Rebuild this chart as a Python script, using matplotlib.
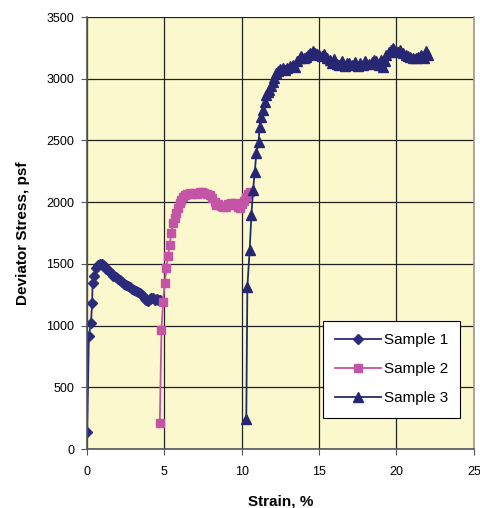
import matplotlib.pyplot as plt

plt.rcParams['font.family'] = ['Liberation Sans', 'DejaVu Sans']

# Sample 1 (diamonds)
s1_strain = [0.02, 0.13, 0.26, 0.34, 0.37, 0.47, 0.62, 0.75, 0.84, 0.95, 1.05, 1.15, 1.25,
             1.35, 1.48, 1.6, 1.72, 1.85, 1.98, 2.13, 2.25, 2.38, 2.5, 2.63, 2.77, 2.9,
             3.02, 3.15, 3.28, 3.42, 3.55, 3.66, 3.77, 3.85, 3.95, 4.05, 4.15, 4.28, 4.4,
             4.52, 4.62, 4.71]
s1_stress = [140, 918, 1018, 1180, 1343, 1402, 1464, 1490, 1499, 1496, 1488, 1475, 1462,
             1450, 1437, 1420, 1405, 1390, 1378, 1370, 1352, 1340, 1330, 1322, 1315, 1300,
             1290, 1280, 1272, 1262, 1245, 1230, 1215, 1207, 1200, 1212, 1222, 1221, 1210,
             1215, 1205, 1207]

# Sample 2 (squares)
s2_strain = [4.71, 4.82, 4.92, 5.03, 5.14, 5.24, 5.35, 5.46, 5.57, 5.68, 5.78, 5.88, 5.99,
             6.1, 6.21, 6.35, 6.5, 6.65, 6.8, 6.95, 7.1, 7.29, 7.45, 7.6, 7.75, 7.94, 8.1,
             8.25, 8.37, 8.5, 8.65, 8.8, 9.01, 9.15, 9.3, 9.45, 9.56, 9.66, 9.78, 9.88,
             10.0, 10.15, 10.3, 10.42, 10.52]
s2_stress = [208, 964, 1189, 1343, 1464, 1564, 1653, 1748, 1829, 1870, 1910, 1950, 1991,
             2020, 2045, 2060, 2068, 2072, 2065, 2078, 2070, 2085, 2080, 2075, 2070, 2058,
             2030, 2000, 1977, 1985, 1970, 1960, 1964, 1985, 1995, 1975, 1990, 1977, 1960,
             1950, 1985, 2010, 2045, 2070, 2085]

# Sample 3 (triangles)
s3_strain = [10.3, 10.37, 10.52, 10.63, 10.74, 10.85, 10.95, 11.1, 11.16, 11.27, 11.38,
             11.48, 11.59, 11.7, 11.8, 11.9, 12.02, 12.12, 12.23, 12.35, 12.5, 12.66,
             12.8, 12.95, 13.1, 13.3, 13.45, 13.6, 13.75, 13.84, 14.0, 14.15, 14.3, 14.45,
             14.6, 14.75, 14.9, 15.03, 15.2, 15.35, 15.5, 15.68, 15.85, 16.0, 16.15, 16.32,
             16.5, 16.65, 16.8, 16.97, 17.15, 17.3, 17.5, 17.65, 17.83, 18.0, 18.2, 18.4,
             18.55, 18.69, 18.85, 19.0, 19.12, 19.25, 19.35, 19.5, 19.65, 19.78, 19.95,
             20.1, 20.25, 20.43, 20.6, 20.75, 20.9, 21.08, 21.25, 21.4, 21.62, 21.8,
             21.94, 22.04]
s3_stress = [241, 1315, 1613, 1896, 2099, 2247, 2396, 2490, 2612, 2693, 2747, 2815, 2869,
             2890, 2909, 2940, 2977, 3010, 3045, 3060, 3075, 3086, 3070, 3090, 3100, 3113,
             3095, 3140, 3170, 3181, 3165, 3175, 3190, 3205, 3221, 3210, 3200, 3194, 3185,
             3200, 3170, 3153, 3130, 3160, 3120, 3113, 3140, 3105, 3130, 3126, 3110, 3135,
             3100, 3125, 3113, 3140, 3120, 3135, 3150, 3140, 3110, 3150, 3099, 3140, 3194,
             3220, 3230, 3248, 3225, 3215, 3230, 3207, 3190, 3185, 3175, 3167, 3170, 3180,
             3194, 3170, 3221, 3194]

labels = ['Sample 1', 'Sample 2', 'Sample 3']

fig = plt.figure(figsize=(4.8, 5.08), dpi=100)
ax = fig.add_axes([0.181, 0.116, 0.806, 0.8505])
ax.set_facecolor('#FCF8CE')

ax.plot(s1_strain, s1_stress, color='#2B2B7C', marker='D', markersize=5, lw=1.3,
        label=labels[0])
ax.plot(s2_strain, s2_stress, color='#C354A6', marker='s', markersize=6, lw=1.3,
        label=labels[1])
ax.plot(s3_strain, s3_stress, color='#1F2E6A', marker='^', markersize=6.5,
        markerfacecolor='#262673', markeredgecolor='#262673', lw=1.3, label=labels[2])

ax.set_xlim(0, 25)
ax.set_ylim(0, 3500)
ax.set_xticks(range(0, 26, 5))
ax.set_yticks(range(0, 3501, 500))
ax.grid(True, color='#222222', lw=0.9)
ax.set_axisbelow(True)
ax.tick_params(labelsize=9, length=4, color='#555555', direction='out')
ax.tick_params(axis='x', pad=8)
ax.tick_params(axis='y', pad=5)
for s in ['left', 'bottom']:
    ax.spines[s].set_color('#555555')
    ax.spines[s].set_linewidth(1.2)
ax.spines['top'].set_visible(False)
ax.spines['right'].set_color('#999999')
ax.spines['right'].set_linewidth(1.2)

ax.set_xlabel('Strain, %', fontsize=11, fontweight='bold', labelpad=12)
ax.set_ylabel('Deviator Stress, psf', fontsize=11, fontweight='bold', labelpad=12)

leg = ax.legend(loc='lower right', bbox_to_anchor=(0.985, 0.055), fontsize=11,
                fancybox=False, edgecolor='black', framealpha=1, borderpad=0.8,
                labelspacing=1.0, handlelength=3.0, handletextpad=0.2)
leg.get_frame().set_linewidth(0.8)

fig.savefig('out.png', dpi=100)
